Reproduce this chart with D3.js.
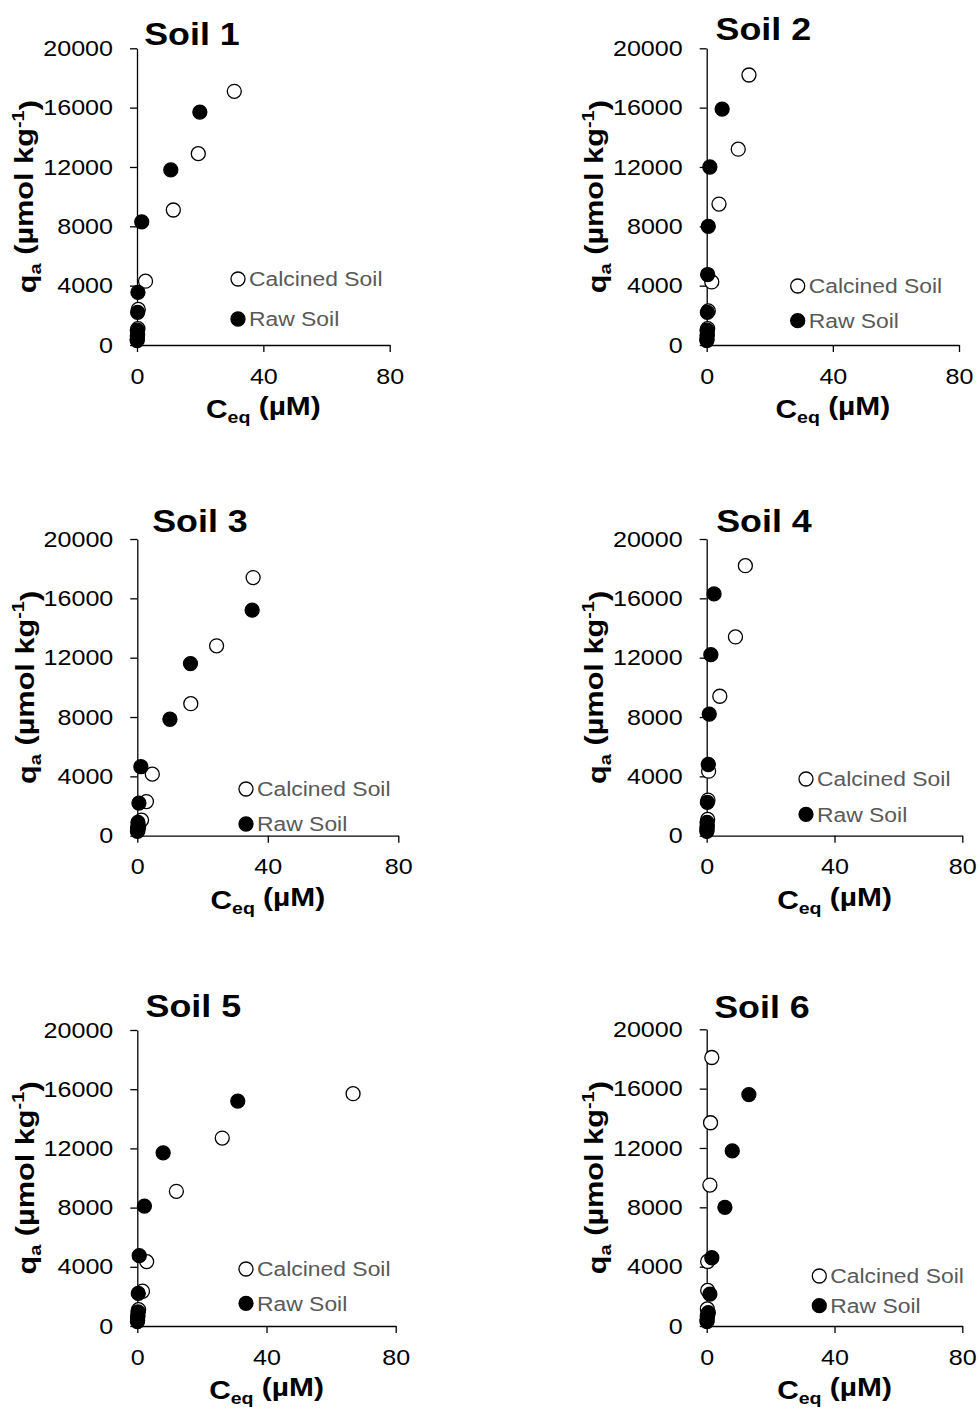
<!DOCTYPE html>
<html>
<head>
<meta charset="utf-8">
<script src="https://cdn.jsdelivr.net/npm/d3@7"></script>
<style>
  body { margin: 0; background: #fff; }
  svg { display: block; font-family: "Liberation Sans", Arial, sans-serif; }
</style>
</head>
<body>
<script>
// chart values
const soils = ["Soil 1", "Soil 2", "Soil 3", "Soil 4", "Soil 5", "Soil 6"];
const seriesNames = ["Calcined Soil", "Raw Soil"];
const xTicks = [0, 40, 80];
const yTicks = [0, 4000, 8000, 12000, 16000, 20000];

const calcinedCeq = [
  [30.8, 19.4, 11.5, 2.7, 0.4, 0.3, 0.2, 0.1],
  [13.4, 10.0, 3.9, 1.6, 0.5, 0.3, 0.2, 0.1],
  [35.5, 24.3, 16.4, 4.6, 2.8, 1.3, 0.4, 0.2],
  [12.1, 9.0, 4.1, 0.6, 0.4, 0.3, 0.2, 0.1],
  [66.8, 26.3, 12.1, 2.9, 1.6, 0.4, 0.2, 0.1],
  [1.6, 1.2, 1.0, 0.3, 0.3, 0.2, 0.2, 0.1]
];
const calcinedQa = [
  [17100, 12900, 9100, 4300, 2400, 1100, 700, 400],
  [18200, 13200, 9500, 4250, 2300, 1100, 700, 400],
  [17400, 12800, 8900, 4150, 2300, 1050, 600, 350],
  [18200, 13400, 9400, 4350, 2400, 1100, 700, 400],
  [15700, 12700, 9100, 4350, 2350, 1100, 700, 400],
  [18100, 13700, 9500, 4350, 2400, 1150, 700, 400]
];
const rawCeq = [
  [19.9, 10.7, 1.5, 0.3, 0.2, 0.1, 0.1, 0.05],
  [4.9, 1.0, 0.5, 0.3, 0.2, 0.1, 0.1, 0.05],
  [35.2, 16.3, 10.0, 1.1, 0.5, 0.2, 0.1, 0.05],
  [2.3, 1.3, 0.8, 0.5, 0.2, 0.1, 0.1, 0.05],
  [31.1, 8.0, 2.2, 0.6, 0.3, 0.2, 0.1, 0.05],
  [13.2, 8.0, 5.7, 1.6, 1.0, 0.5, 0.2, 0.1]
];
const rawQa = [
  [15700, 11800, 8300, 3550, 2200, 1000, 600, 300],
  [15900, 12000, 8000, 4750, 2200, 1000, 600, 300],
  [15200, 11600, 7850, 4650, 2200, 900, 550, 300],
  [16300, 12200, 8200, 4800, 2250, 900, 550, 300],
  [15200, 11700, 8100, 4750, 2200, 950, 600, 300],
  [15600, 11800, 8000, 4600, 2150, 900, 600, 300]
];

// panel placement on the page
const panels = [
  {x0: 137,   x1: 389.7, yTop: 48.3,  yBot: 345,   tx: 192,   ty: 45,    lx: 238,   ly: [279, 319]},
  {x0: 706.7, x1: 959,   yTop: 48.3,  yBot: 345,   tx: 763.3, ty: 40,    lx: 797.7, ly: [286, 320.7]},
  {x0: 137.3, x1: 398.3, yTop: 539,   yBot: 835.7, tx: 200,   ty: 531.7, lx: 246,   ly: [789, 824]},
  {x0: 706.7, x1: 962.3, yTop: 539,   yBot: 835.7, tx: 764,   ty: 531.7, lx: 806,   ly: [779, 814.3]},
  {x0: 137.3, x1: 395.7, yTop: 1030,  yBot: 1326,  tx: 193.3, ty: 1016.7, lx: 246,  ly: [1269, 1303.3]},
  {x0: 706.7, x1: 962.3, yTop: 1029.3, yBot: 1326, tx: 762,   ty: 1018.3, lx: 819.3, ly: [1276, 1305.7]}
];

const width = 980, height = 1412;
const svg = d3.select("body").append("svg")
  .attr("width", width)
  .attr("height", height);

// text in the source is drawn a bit wider than Arial, so stretch it horizontally
function widen(sel, k) {
  sel.each(function() {
    const t = d3.select(this);
    const x = +t.attr("x") || 0, y = +t.attr("y") || 0;
    t.attr("transform", `translate(${x},${y}) scale(${k},1) translate(${-x},${-y})`);
  });
}

const markerR = 7;

panels.forEach((p, i) => {
  const g = svg.append("g");

  const x = d3.scaleLinear().domain([0, 80]).range([p.x0, p.x1]);
  const y = d3.scaleLinear().domain([0, 20000]).range([p.yBot, p.yTop]);

  // y axis
  const ya = g.append("g")
    .attr("transform", `translate(${p.x0},0)`)
    .call(d3.axisLeft(y).tickValues(yTicks).tickFormat(d3.format("d"))
      .tickSize(7).tickSizeOuter(0).tickPadding(17));
  // x axis
  const xa = g.append("g")
    .attr("transform", `translate(0,${p.yBot})`)
    .call(d3.axisBottom(x).tickValues(xTicks).tickFormat(d3.format("d"))
      .tickSize(7).tickSizeOuter(0).tickPadding(16));

  [ya, xa].forEach(a => {
    a.selectAll("path, line").attr("stroke", "#000").attr("stroke-width", 1.3);
    a.selectAll("text").attr("fill", "#000").style("font-size", "22px")
      .style("font-family", "'Liberation Sans', Arial, sans-serif");
    widen(a.selectAll("text"), 1.14);
  });

  // title
  const title = g.append("text")
    .attr("x", p.tx).attr("y", p.ty)
    .attr("text-anchor", "middle")
    .style("font-size", "32px").style("font-weight", "bold")
    .text(soils[i]);
  widen(title, 1.12);

  // x-axis label
  const xl = g.append("text")
    .attr("x", (p.x0 + p.x1) / 2).attr("y", p.yBot + 73)
    .attr("text-anchor", "middle")
    .style("font-size", "26px").style("font-weight", "bold");
  xl.append("tspan").text("C");
  xl.append("tspan").attr("dy", "0.3em").style("font-size", "17px").text("eq");
  xl.append("tspan").attr("dy", "-0.3em").text(" (µM)");
  widen(xl, 1.15);

  // y-axis label
  const cy = (p.yTop + p.yBot) / 2, cx = p.x0 - 101;
  const yl = g.append("text")
    .attr("text-anchor", "middle")
    .attr("transform", `translate(${cx},${cy}) rotate(-90) scale(1.18,1)`)
    .style("font-size", "26px").style("font-weight", "bold");
  yl.append("tspan").text("q");
  yl.append("tspan").attr("dy", "0.3em").style("font-size", "17px").text("a");
  yl.append("tspan").attr("dy", "-0.3em").text(" (µmol kg");
  yl.append("tspan").attr("dy", "-0.55em").style("font-size", "17px").text("-1");
  yl.append("tspan").attr("dy", "0.55em").text(")");

  // points: calcined first, raw drawn on top
  const calc = calcinedCeq[i].map((c, j) => ({c: c, q: calcinedQa[i][j]}));
  const raw = rawCeq[i].map((c, j) => ({c: c, q: rawQa[i][j]}));

  g.selectAll(".calc")
    .data(calc)
    .join("circle")
    .attr("class", "calc")
    .attr("cx", d => x(d.c))
    .attr("cy", d => y(d.q))
    .attr("r", markerR)
    .attr("fill", "#fff")
    .attr("stroke", "#000")
    .attr("stroke-width", 1.3);

  g.selectAll(".raw")
    .data(raw)
    .join("circle")
    .attr("class", "raw")
    .attr("cx", d => x(d.c))
    .attr("cy", d => y(d.q))
    .attr("r", markerR)
    .attr("fill", "#000")
    .attr("stroke", "#000")
    .attr("stroke-width", 1.3);

  // legend
  seriesNames.forEach((name, k) => {
    g.append("circle")
      .attr("cx", p.lx).attr("cy", p.ly[k]).attr("r", markerR)
      .attr("fill", k === 0 ? "#fff" : "#000")
      .attr("stroke", "#000").attr("stroke-width", 1.3);
    const lt = g.append("text")
      .attr("x", p.lx + 11).attr("y", p.ly[k] + 7.5)
      .attr("fill", "#595959")
      .style("font-size", "21px")
      .text(name);
    widen(lt, 1.09);
  });
});
</script>
</body>
</html>
